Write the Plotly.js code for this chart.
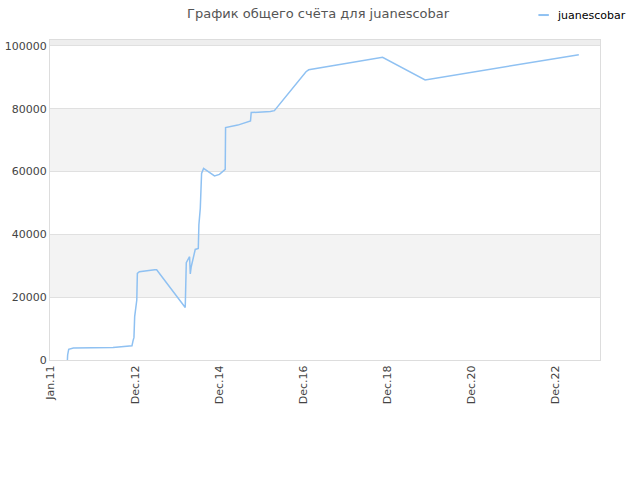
<!DOCTYPE html>
<html>
<head>
<meta charset="utf-8">
<script src="https://cdn.plot.ly/plotly-3.0.1.min.js"></script>
<style>
  body { margin: 0; background: #fff; }
  #chart { width: 640px; height: 480px; }
</style>
</head>
<body>
<div id="chart"></div>
<script>
// score history
const dates = [
    "2011-05-22", "2011-05-24", "2011-06-02", "2011-07-12", "2012-06-13",
    "2012-11-02", "2012-11-21", "2012-11-30", "2012-12-08", "2012-12-14",
    "2012-12-20", "2013-01-01", "2013-01-06", "2013-01-23", "2013-06-02",
    "2013-06-19", "2014-02-17", "2014-02-19", "2014-02-26", "2014-03-26",
    "2014-04-01", "2014-04-09", "2014-04-29", "2014-05-13", "2014-06-08",
    "2014-06-13", "2014-06-25", "2014-06-30", "2014-07-06", "2014-07-23",
    "2014-10-24", "2014-12-05", "2015-01-23", "2015-01-26", "2015-04-12",
    "2015-05-10", "2015-08-26", "2015-09-01", "2016-02-11", "2016-03-16",
    "2016-12-10", "2017-01-02", "2018-09-22", "2019-09-19", "2023-04-18"
];
const scores = [
    0, 1600, 3400, 3800, 4000,
    4460, 4500, 6100, 7200, 13800,
    16100, 19100, 27600, 28100, 28700,
    28700, 16700, 24900, 31000, 32900,
    27400, 29700, 33100, 35200, 35500,
    43000, 48300, 56200, 59400, 61000,
    58600, 59100, 60700, 74000, 74500,
    74800, 76100, 78800, 79100, 79400,
    91800, 92400, 96400, 89200, 97200
];

const seriesName = "juanescobar";
// ticks in the source sit evenly, about 715 days apart
const tickDates = ["2011-01-01", "2012-12-17", "2014-12-02", "2016-11-16",
                   "2018-11-01", "2020-10-16", "2022-10-01"];
const tickLabels = ["Jan.11", "Dec.12", "Dec.14", "Dec.16", "Dec.18", "Dec.20", "Dec.22"];
const yTicks = [0, 20000, 40000, 60000, 80000, 100000];
const yTop = 101900;

const FONT = "DejaVu Sans, sans-serif";
const LINE_CLR = "#8fc1f2";

// alternating grey bands between gridlines
const shapes = [];
const edges = yTicks.concat([yTop]);
for (let i = 1; i < edges.length - 1; i += 2) {
    shapes.push({
        type: "rect", xref: "paper", yref: "y", layer: "below",
        x0: 0, x1: 1, y0: edges[i], y1: edges[i + 1],
        fillcolor: i === edges.length - 2 ? "#eeeeee" : "#f3f3f3",
        line: {width: 0}
    });
}
// small legend swatch, top right
shapes.push({
    type: "line", xref: "paper", yref: "paper",
    x0: 0.888, x1: 0.907, y0: 1.078, y1: 1.078,
    line: {color: LINE_CLR, width: 2}
});

const trace = {
    x: dates,
    y: scores,
    type: "scatter",
    mode: "lines",
    name: seriesName,
    line: {color: LINE_CLR, width: 1.5},
    showlegend: false
};

const layout = {
    width: 640,
    height: 480,
    margin: {l: 50, r: 40, t: 40, b: 120, autoexpand: false},
    paper_bgcolor: "#ffffff",
    plot_bgcolor: "#ffffff",
    font: {family: FONT, size: 11, color: "#444"},
    title: {
        text: "График общего счёта для juanescobar",
        font: {family: FONT, size: 13, color: "#555"},
        x: 0.497, xanchor: "center",
        y: 0.972, yanchor: "middle"
    },
    annotations: [{
        text: seriesName,
        xref: "paper", yref: "paper",
        x: 0.919, y: 1.078, xanchor: "left", yanchor: "middle",
        showarrow: false,
        font: {family: FONT, size: 11, color: "#000"}
    }],
    xaxis: {
        type: "date",
        range: ["2010-12-25", "2023-10-15"],
        tickvals: tickDates,
        ticktext: tickLabels,
        tickangle: -90,
        tickfont: {family: FONT, size: 11, color: "#444"},
        showgrid: false,
        zeroline: false,
        showline: true,
        mirror: true,
        linecolor: "#dddddd",
        linewidth: 1,
        ticks: ""
    },
    yaxis: {
        range: [0, yTop],
        tickvals: yTicks,
        ticktext: yTicks.map(String),
        tickfont: {family: FONT, size: 11, color: "#444"},
        showgrid: true,
        gridcolor: "#e0e0e0",
        zeroline: false,
        showline: true,
        mirror: true,
        linecolor: "#dddddd",
        linewidth: 1,
        ticks: ""
    },
    shapes: shapes
};

Plotly.newPlot("chart", [trace], layout, {displayModeBar: false, staticPlot: true});
</script>
</body>
</html>
